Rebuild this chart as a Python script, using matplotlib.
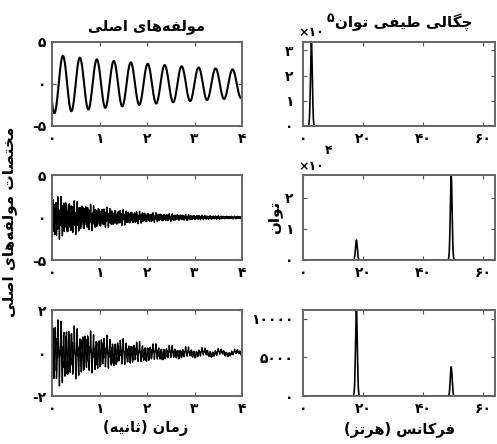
import numpy as np
import matplotlib
matplotlib.use("Agg")
import matplotlib.pyplot as plt

# ---------------- data ----------------
fs = 128.0                      # sampling rate (Hz) -> spectrum up to 64 Hz
duration = 4.0
# component 1: slow oscillation
c1_freq = 2.8
c1_amp0 = 3.5
c1_tau = 5.4
c1_peak_time = 0.23
# component 2: two decaying tones
c2_freqs = [17.5, 49.5]
c2_amps = [1.0, 1.9]
c2_tau = 1.35
# component 3: two decaying tones + slow wobble
c3_freqs = [17.5, 49.5]
c3_amps = [1.1, 0.65]
c3_tau = 1.4
c3_wobble_freq = 2.9
c3_wobble_amp = 0.08

# spectra: peak frequencies and heights
psd1_freqs = [2.8]
psd1_heights = [3.33e5]
psd2_freqs = [17.8, 49.4]
psd2_heights = [0.64e4, 2.72e4]
psd3_freqs = [17.8, 49.4]
psd3_heights = [11100, 3770]
peak_width = 0.3

time_ticks = [0, 1, 2, 3, 4]
time_ticklabels = ["۰", "۱", "۲", "۳", "۴"]
freq_ticks = [0, 20, 40, 60]
freq_ticklabels = ["۰", "۲۰", "۴۰", "۶۰"]
y1_ticks = [-5, 0, 5]
y1_ticklabels = ["-۵", "۰", "۵"]
y2_ticks = [-5, 0, 5]
y2_ticklabels = ["-۵", "۰", "۵"]
y3_ticks = [-2, 0, 2]
y3_ticklabels = ["-۲", "۰", "۲"]
p1_ticks = [0, 1e5, 2e5, 3e5]
p1_ticklabels = ["۰", "۱", "۲", "۳"]
p2_ticks = [0, 1e4, 2e4]
p2_ticklabels = ["۰", "۱", "۲"]
p3_ticks = [0, 5000, 10000]
p3_ticklabels = ["۰", "۵۰۰۰", "۱۰۰۰۰"]

title_left = "مولفه‌های اصلی"
title_right = "چگالی طیفی توان"
ylabel_left = "مختصات مولفه‌های اصلی"
ylabel_right = "توان"
xlabel_left = "زمان (ثانیه)"
xlabel_right = "فرکانس (هرتز)"

# ---------------- minimal Persian shaping ----------------
FORMS = {
    'ا': ('\uFE8D', '\uFE8E', None, None),
    'و': ('\uFEED', '\uFEEE', None, None),
    'ز': ('\uFEAF', '\uFEB0', None, None),
    'ر': ('\uFEAD', '\uFEAE', None, None),
    'ل': ('\uFEDD', '\uFEDE', '\uFEDF', '\uFEE0'),
    'م': ('\uFEE1', '\uFEE2', '\uFEE3', '\uFEE4'),
    'ف': ('\uFED1', '\uFED2', '\uFED3', '\uFED4'),
    'ه': ('\uFEE9', '\uFEEA', '\uFEEB', '\uFEEC'),
    'ی': ('\uFBFC', '\uFBFD', '\uFBFE', '\uFBFF'),
    'ص': ('\uFEB9', '\uFEBA', '\uFEBB', '\uFEBC'),
    'چ': ('\uFB7A', '\uFB7B', '\uFB7C', '\uFB7D'),
    'گ': ('\uFB92', '\uFB93', '\uFB94', '\uFB95'),
    'ط': ('\uFEC1', '\uFEC2', '\uFEC3', '\uFEC4'),
    'ت': ('\uFE95', '\uFE96', '\uFE97', '\uFE98'),
    'ن': ('\uFEE5', '\uFEE6', '\uFEE7', '\uFEE8'),
    'خ': ('\uFEA5', '\uFEA6', '\uFEA7', '\uFEA8'),
    'ث': ('\uFE99', '\uFE9A', '\uFE9B', '\uFE9C'),
    'ک': ('\uFB8E', '\uFB8F', '\uFB90', '\uFB91'),
    'س': ('\uFEB1', '\uFEB2', '\uFEB3', '\uFEB4'),
}


def shape(s):
    out = []
    n = len(s)
    for i, c in enumerate(s):
        if c not in FORMS:
            if c != '\u200c':
                out.append(c)
            continue
        f = FORMS[c]
        prev = s[i - 1] if i > 0 else None
        nxt = s[i + 1] if i + 1 < n else None
        jp = prev in FORMS and FORMS[prev][2] is not None
        jn = f[2] is not None and nxt in FORMS
        if jp and jn:
            out.append(f[3])
        elif jp:
            out.append(f[1])
        elif jn:
            out.append(f[2])
        else:
            out.append(f[0])
    vis = ''.join(reversed(out))
    vis = vis.translate(str.maketrans('()', ')('))
    return vis


# ---------------- signals ----------------
t = np.arange(0, duration + 1 / fs, 1 / fs)
x1 = c1_amp0 * np.exp(-t / c1_tau) * np.cos(2 * np.pi * c1_freq * (t - c1_peak_time))
x2 = np.exp(-t / c2_tau) * sum(a * np.sin(2 * np.pi * f * t) for f, a in zip(c2_freqs, c2_amps))
x3 = np.exp(-t / c3_tau) * sum(a * np.sin(2 * np.pi * f * t) for f, a in zip(c3_freqs, c3_amps)) \
     + c3_wobble_amp * np.sin(2 * np.pi * c3_wobble_freq * t)

fgrid = np.arange(0, fs / 2 + 0.01, 0.02)


def spectrum(freqs, heights):
    return sum(h * np.exp(-0.5 * ((fgrid - f) / peak_width) ** 2) for f, h in zip(freqs, heights))


p1 = spectrum(psd1_freqs, psd1_heights)
p2 = spectrum(psd2_freqs, psd2_heights)
p3 = spectrum(psd3_freqs, psd3_heights)

# ---------------- figure ----------------
W, H = 497, 444
fig = plt.figure(figsize=(W / 100, H / 100), dpi=100)
FONT = 'DejaVu Sans'
FS = 10


def px_axes(x0, y0, x1, y1):
    return fig.add_axes([x0 / W, 1 - y1 / H, (x1 - x0) / W, (y1 - y0) / H])


rows = [(42, 126), (175, 260), (310, 396)]
lcol = (52, 242)
rcol = (303, 495)


def style(ax, xt, xtl, yt, ytl):
    ax.set_xticks(xt)
    ax.set_xticklabels(xtl)
    ax.set_yticks(yt)
    ax.set_yticklabels(ytl)
    ax.tick_params(direction='in', top=True, right=True, length=3, width=0.8,
                   color='#555555', labelsize=FS, pad=4)
    for lab in ax.get_xticklabels() + ax.get_yticklabels():
        lab.set_fontfamily(FONT)
        lab.set_fontweight('bold')
    for sp in ax.spines.values():
        sp.set_color('#666666')
        sp.set_linewidth(1.4)


left_data = [(x1, (-5, 5), y1_ticks, y1_ticklabels, 1.5),
             (x2, (-5, 5), y2_ticks, y2_ticklabels, 1.0),
             (x3, (-2, 2), y3_ticks, y3_ticklabels, 1.0)]
right_data = [(p1, p1_ticks, p1_ticklabels),
              (p2, p2_ticks, p2_ticklabels),
              (p3, p3_ticks, p3_ticklabels)]

axes_l, axes_r = [], []
for (y0, y1), (sig, yl, yt, ytl, lw) in zip(rows, left_data):
    ax = px_axes(lcol[0], y0, lcol[1], y1)
    ax.plot(t, sig, color='black', lw=lw)
    ax.set_xlim(0, duration)
    ax.set_ylim(*yl)
    style(ax, time_ticks, time_ticklabels, yt, ytl)
    axes_l.append(ax)

for (y0, y1), (p, yt, ytl) in zip(rows, right_data):
    ax = px_axes(rcol[0], y0, rcol[1], y1)
    ax.plot(fgrid, p, color='black', lw=1.2)
    ax.set_xlim(0, fs / 2)
    ax.set_ylim(0, p.max())
    style(ax, freq_ticks, freq_ticklabels, yt, ytl)
    ax.tick_params(axis='y', pad=7)
    axes_r.append(ax)


def ptext(x, y, s, size=FS, weight='bold', rot=0, ha='center', va='center'):
    fig.text(x / W, 1 - y / H, s, fontsize=size, fontweight=weight, family=FONT,
             rotation=rot, ha=ha, va=va)


ptext(147, 26, shape(title_left), size=10.5)
ptext(404, 22, shape(title_right), size=11)
ptext(10, 222, shape(ylabel_left), size=11)
ptext(275, 217, shape(ylabel_right), size=11, rot=90)
ptext(146, 428, shape(xlabel_left), size=10.5)
ptext(400, 429, shape(xlabel_right), size=10.5)
fig.texts[2].set_rotation(90)

# multiplier labels
ptext(311, 32, "×۱۰", size=9)
ptext(330, 19, "۵", size=9)
ptext(311, 166, "×۱۰", size=9)
ptext(329, 150, "۴", size=9)

fig.savefig("out.png", dpi=100)
